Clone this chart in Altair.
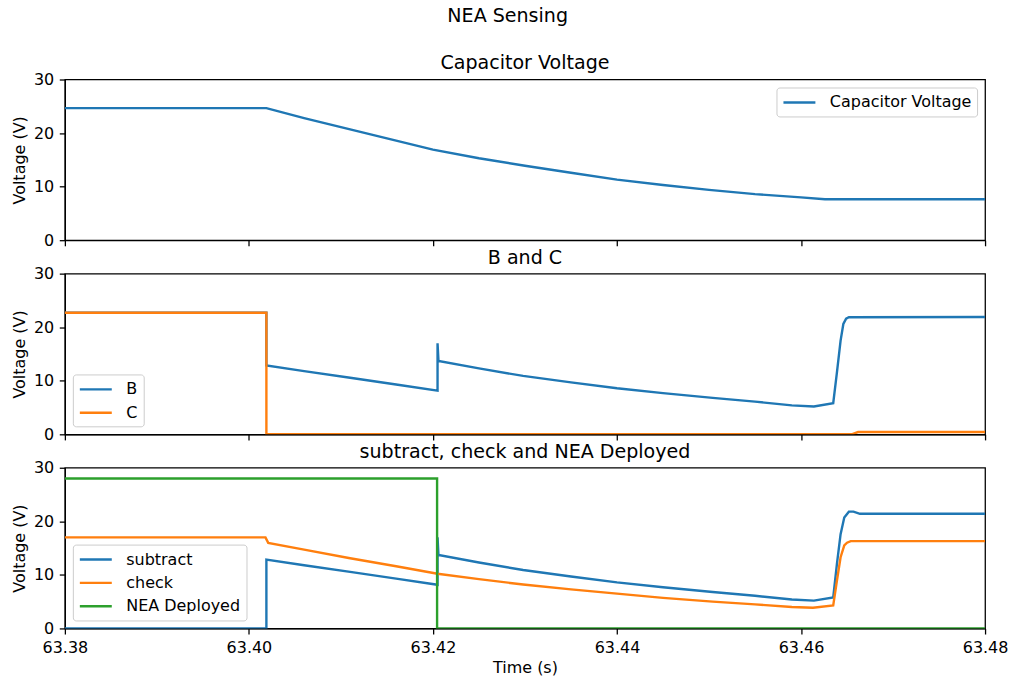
import altair as alt
import pandas as pd

FONT = "DejaVu Sans"
BLUE, ORANGE, GREEN = "#1f77b4", "#ff7f0e", "#2ca02c"

x_ticks = [63.38, 63.40, 63.42, 63.44, 63.46, 63.48]
y_ticks = [0, 10, 20, 30]

# --- Capacitor Voltage ---
cap_t = [63.38, 63.4019, 63.406, 63.410, 63.415, 63.420, 63.425, 63.430, 63.435,
         63.440, 63.445, 63.450, 63.455, 63.460, 63.4626, 63.48]
cap_v = [24.65, 24.65, 22.8, 21.1, 19.0, 16.9, 15.3, 13.9, 12.6,
         11.3, 10.3, 9.4, 8.6, 8.0, 7.65, 7.65]

# --- B and C ---
b_t = [63.38, 63.4019, 63.4019, 63.406, 63.411, 63.416, 63.4205, 63.4205, 63.4206,
       63.425, 63.4298, 63.435, 63.440, 63.445, 63.4504, 63.455, 63.459, 63.4614,
       63.4635, 63.4639, 63.4643, 63.4646, 63.4649, 63.4652, 63.48]
b_v = [22.7, 22.7, 12.85, 11.8, 10.55, 9.3, 8.15, 17.0, 13.7,
       12.3, 10.9, 9.7, 8.6, 7.7, 6.8, 6.1, 5.4, 5.2,
       5.8, 11.5, 17.5, 20.6, 21.6, 21.85, 21.9]
c_t = [63.38, 63.4019, 63.4019, 63.4655, 63.4662, 63.48]
c_v = [22.7, 22.7, 0.0, 0.0, 0.43, 0.43]

# --- subtract, check and NEA Deployed ---
sub_t = [63.38, 63.4019, 63.4019, 63.406, 63.411, 63.416, 63.4205, 63.4205, 63.4206,
         63.425, 63.4298, 63.435, 63.440, 63.445, 63.4504, 63.455, 63.459, 63.4614,
         63.4635, 63.4639, 63.4643, 63.4647, 63.4652, 63.4657, 63.4664, 63.48]
sub_v = [0.0, 0.0, 12.86, 11.8, 10.55, 9.3, 8.15, 17.0, 13.7,
         12.3, 10.9, 9.7, 8.6, 7.7, 6.8, 6.1, 5.4, 5.2,
         5.8, 12.0, 17.6, 20.7, 21.8, 21.8, 21.4, 21.4]
chk_t = [63.38, 63.4018, 63.4021, 63.406, 63.411, 63.416, 63.4205, 63.425, 63.4298,
         63.435, 63.440, 63.445, 63.4504, 63.455, 63.459, 63.4613, 63.4635, 63.4639,
         63.4643, 63.4647, 63.4650, 63.4654, 63.48]
chk_v = [17.0, 17.0, 15.97, 14.7, 13.1, 11.6, 10.2, 9.2, 8.2,
         7.3, 6.5, 5.7, 5.0, 4.5, 4.0, 3.85, 4.3, 8.9,
         13.3, 15.5, 16.0, 16.3, 16.3]
nea_t = [63.38, 63.42045, 63.42045, 63.48]
nea_v = [28.0, 28.0, 0.0, 0.0]


def frame(series):
    rows = []
    for name, ts, vs in series:
        for i, (t, v) in enumerate(zip(ts, vs)):
            rows.append({"t": t, "v": v, "s": name, "i": i})
    return pd.DataFrame(rows)


def panel(series, colors, title, legend_orient, bottom):
    df = frame(series)
    names = [s[0] for s in series]
    color = alt.Color(
        "s:N",
        scale=alt.Scale(domain=names, range=colors),
        legend=alt.Legend(title=None, orient=legend_orient),
    )
    x = alt.X(
        "t:Q",
        scale=alt.Scale(domain=[63.38, 63.48], nice=False, zero=False),
        axis=alt.Axis(values=x_ticks, format=".2f", labels=bottom,
                      title="Time (s)" if bottom else None, titlePadding=4),
    )
    y = alt.Y(
        "v:Q",
        scale=alt.Scale(domain=[0, 30], nice=False),
        axis=alt.Axis(values=y_ticks, title="Voltage (V)", titlePadding=6),
    )
    layers = [
        alt.Chart(df)
        .transform_filter(alt.datum.s == n)
        .mark_line(strokeWidth=2.4, clip=True)
        .encode(x=x, y=y, color=color, order="i:Q")
        for n in names
    ]
    return alt.layer(*layers).properties(
        width=922, height=161,
        title=alt.TitleParams(title, baseline="top", offset=-2),
    )


p1 = panel([("Capacitor Voltage", cap_t, cap_v)], [BLUE], "Capacitor Voltage", "top-right", False)
p2 = panel([("B", b_t, b_v), ("C", c_t, c_v)], [BLUE, ORANGE], "B and C", "bottom-left", False)
p3 = panel([("subtract", sub_t, sub_v), ("check", chk_t, chk_v), ("NEA Deployed", nea_t, nea_v)],
           [BLUE, ORANGE, GREEN], "subtract, check and NEA Deployed", "bottom-left", True)

chart = (
    alt.vconcat(p1, p2, p3, spacing=-1.5)
    .resolve_scale(color="independent")
    .properties(
        title=alt.TitleParams("NEA Sensing", anchor="middle", baseline="top", offset=28, dx=-2),
        padding={"left": 10, "top": 6, "right": 5, "bottom": 2},
    )
    .configure_axis(
        labelFont=FONT, labelFontSize=16, labelColor="black",
        titleFont=FONT, titleFontSize=16, titleFontWeight="normal", titleColor="black",
        domainColor="black", domainWidth=1.28, tickColor="black", tickWidth=1.28,
        tickSize=5.6, labelPadding=5.6, grid=False, labelFlush=False, labelOverlap=False,
    )
    .configure_view(stroke="black", strokeWidth=1.28)
    .configure_title(font=FONT, fontSize=19.1, fontWeight="normal", color="black")
    .configure_legend(
        labelFont=FONT, labelFontSize=16, labelColor="black",
        symbolType="M-1,0H3", symbolSize=256, symbolStrokeWidth=2.4,
        labelOffset=29, rowPadding=5.4, padding=5.5,
        strokeColor="#cccccc", fillColor="white", cornerRadius=3, offset=8,
    )
)

chart.save("out.html", embed_options={"renderer": "svg", "actions": False})
